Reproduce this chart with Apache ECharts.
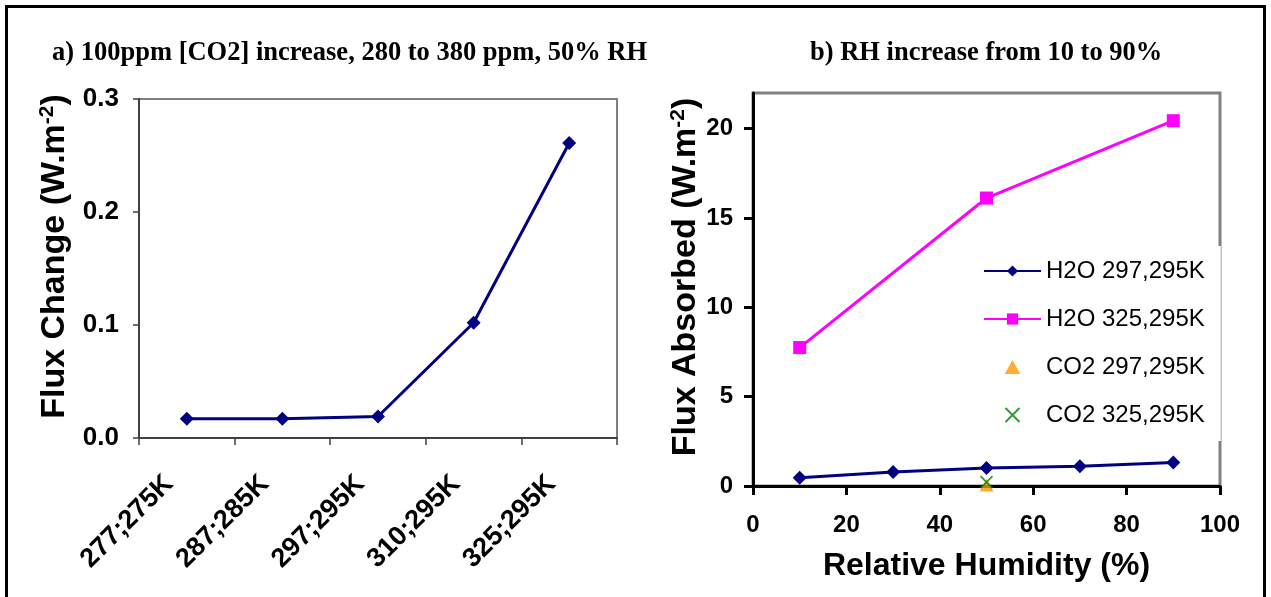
<!DOCTYPE html>
<html>
<head>
<meta charset="utf-8">
<script src="https://cdn.jsdelivr.net/npm/echarts@6/dist/echarts.min.js"></script>
<style>
html,body{margin:0;padding:0;background:#fff;}
#chart{width:1271px;height:597px;}
</style>
</head>
<body>
<div id="chart"></div>
<script>
// ---- data (panel a) ----
const tempCategories = ['277;275K', '287;285K', '297;295K', '310;295K', '325;295K'];
const fluxChange = [0.017, 0.017, 0.019, 0.102, 0.261];
const fluxChangeTicks = [0, 0.1, 0.2, 0.3];

// ---- data (panel b) ----
const rhH2O297 = [10, 30, 50, 70, 90];
const fluxH2O297 = [0.46, 0.78, 1.01, 1.10, 1.31];
const rhH2O325 = [10, 50, 90];
const fluxH2O325 = [7.75, 16.12, 20.45];
const rhCO2 = [50];
const fluxCO2297 = [0.04];
const fluxCO2325 = [0.22];
const absorbedTicks = [0, 5, 10, 15, 20];
const seriesNames = ['H2O 297,295K', 'H2O 325,295K', 'CO2 297,295K', 'CO2 325,295K'];

const SANS = 'Liberation Sans';
const SERIF = 'Liberation Serif';
const NAVY = '#000080';
const MAGENTA = '#FF00FF';
const ORANGE = '#FF9900';
const GREEN = '#008000';
const TRIANGLE = 'path://M5,0L10,9L0,9Z';
const CROSS = 'path://M0,0L10,10M10,0L0,10';

const chart = echarts.init(document.getElementById('chart'), null, {renderer: 'canvas'});

const supStyle = {fontFamily: SANS, fontWeight: 'bold', fontSize: 21, color: '#000', verticalAlign: 'top', padding: [0, 0, 14, 0]};

const option = {
  animation: false,
  backgroundColor: '#fff',
  title: [
    {text: 'a) 100ppm [CO2] increase, 280 to 380 ppm, 50% RH', left: 47, top: 35,
     textStyle: {fontFamily: SERIF, fontWeight: 'bold', fontSize: 26.5, color: '#000'}},
    {text: 'b) RH increase from 10 to 90%', left: 805, top: 35,
     textStyle: {fontFamily: SERIF, fontWeight: 'bold', fontSize: 26.5, color: '#000'}}
  ],
  graphic: [
    {type: 'rect', shape: {x: 6.5, y: 6.5, width: 1258, height: 620},
     style: {fill: 'none', stroke: '#000', lineWidth: 3}, z: 100}
  ],
  legend: {
    data: seriesNames,
    orient: 'vertical',
    left: 975, top: 246,
    backgroundColor: '#fff',
    padding: [13, 16, 14, 8],
    itemWidth: 57, itemHeight: 14, itemGap: 24,
    textStyle: {fontFamily: SANS, fontSize: 24, color: '#000'},
    z: 10
  },
  grid: [
    {left: 139, top: 99, width: 478, height: 339, show: true, borderColor: '#808080', borderWidth: 2, backgroundColor: '#fff'},
    {left: 753, top: 93, width: 467, height: 393, show: true, borderColor: '#808080', borderWidth: 3, backgroundColor: '#fff'}
  ],
  xAxis: [
    {type: 'category', gridIndex: 0, data: tempCategories, boundaryGap: true,
     axisLine: {lineStyle: {color: '#404040', width: 2}},
     axisTick: {show: true, length: 7, lineStyle: {color: '#404040', width: 1.5}},
     axisLabel: {rotate: 45, margin: 24, padding: [0, 25, 0, 0], fontFamily: SANS, fontWeight: 'bold', fontSize: 27, color: '#000'},
     splitLine: {show: false}},
    {type: 'value', gridIndex: 1, min: 0, max: 100, interval: 20,
     name: 'Relative Humidity (%)', nameLocation: 'middle', nameGap: 64,
     nameTextStyle: {fontFamily: SANS, fontWeight: 'bold', fontSize: 32, color: '#000'},
     axisLine: {lineStyle: {color: '#000', width: 3}},
     axisTick: {show: true, length: 9, lineStyle: {color: '#000', width: 3}},
     axisLabel: {margin: 27, fontFamily: SANS, fontWeight: 'bold', fontSize: 24, color: '#000'},
     splitLine: {show: false}}
  ],
  yAxis: [
    {type: 'value', gridIndex: 0, min: 0, max: 0.3, interval: 0.1,
     name: 'Flux Change (W.m{sup|-2})', nameLocation: 'middle', nameRotate: 90, nameGap: 67,
     nameTextStyle: {fontFamily: SANS, fontWeight: 'bold', fontSize: 34, color: '#000', padding: [0, 0, 0, 24],
       rich: {sup: supStyle}},
     axisLine: {show: true, lineStyle: {color: '#404040', width: 2}},
     axisTick: {show: true, length: 6, lineStyle: {color: '#404040', width: 1.5}},
     axisLabel: {margin: 20, fontFamily: SANS, fontWeight: 'bold', fontSize: 26, color: '#000',
       formatter: v => v.toFixed(1)},
     splitLine: {show: false}},
    {type: 'value', gridIndex: 1, min: 0, max: 22, interval: 5,
     name: 'Flux Absorbed (W.m{sup|-2})', nameLocation: 'middle', nameRotate: 90, nameGap: 48,
     nameTextStyle: {fontFamily: SANS, fontWeight: 'bold', fontSize: 34, color: '#000', padding: [0, 0, 0, 25],
       rich: {sup: supStyle}},
     axisLine: {show: true, lineStyle: {color: '#000', width: 3}},
     axisTick: {show: true, length: 9, lineStyle: {color: '#000', width: 3}, customValues: absorbedTicks},
     axisLabel: {margin: 20, fontFamily: SANS, fontWeight: 'bold', fontSize: 24, color: '#000', customValues: absorbedTicks},
     splitLine: {show: false}}
  ],
  series: [
    {type: 'line', xAxisIndex: 0, yAxisIndex: 0, data: fluxChange,
     symbol: 'diamond', symbolSize: 14, showAllSymbol: true,
     lineStyle: {color: NAVY, width: 3}, itemStyle: {color: NAVY}},
    {name: seriesNames[0], type: 'line', xAxisIndex: 1, yAxisIndex: 1,
     data: rhH2O297.map((x, i) => [x, fluxH2O297[i]]),
     symbol: 'diamond', symbolSize: 14,
     lineStyle: {color: NAVY, width: 3}, itemStyle: {color: NAVY}},
    {name: seriesNames[1], type: 'line', xAxisIndex: 1, yAxisIndex: 1,
     data: rhH2O325.map((x, i) => [x, fluxH2O325[i]]),
     symbol: 'rect', symbolSize: 13,
     lineStyle: {color: MAGENTA, width: 3}, itemStyle: {color: MAGENTA}},
    {name: seriesNames[2], type: 'scatter', xAxisIndex: 1, yAxisIndex: 1,
     data: rhCO2.map((x, i) => [x, fluxCO2297[i]]),
     symbol: TRIANGLE, symbolKeepAspect: true, symbolSize: 14, itemStyle: {color: ORANGE}},
    {name: seriesNames[3], type: 'scatter', xAxisIndex: 1, yAxisIndex: 1,
     data: rhCO2.map((x, i) => [x, fluxCO2325[i]]),
     symbol: CROSS, symbolKeepAspect: true, symbolSize: 12,
     itemStyle: {color: 'none', borderColor: GREEN, borderWidth: 1.8}}
  ]
};
chart.setOption(option);
</script>
</body>
</html>
